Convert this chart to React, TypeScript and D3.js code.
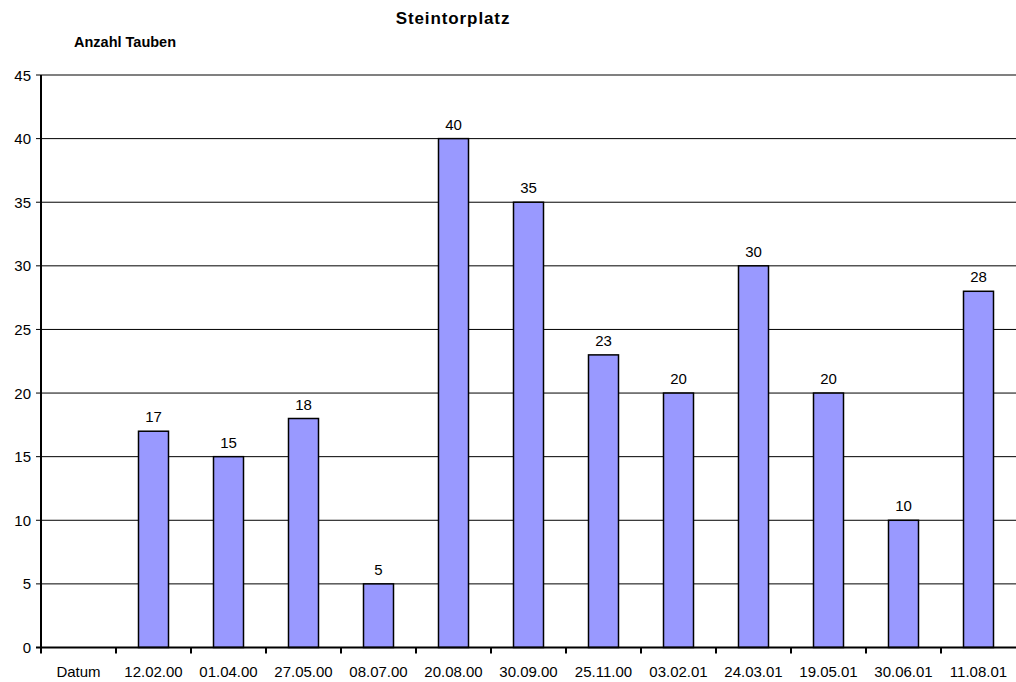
import React from "react";
import * as d3 from "d3";

const categories = ["Datum", "12.02.00", "01.04.00", "27.05.00", "08.07.00", "20.08.00", "30.09.00", "25.11.00", "03.02.01", "24.03.01", "19.05.01", "30.06.01", "11.08.01"];
const counts: (number | null)[] = [null, 17, 15, 18, 5, 40, 35, 23, 20, 30, 20, 10, 28];
const yTicks = [0, 5, 10, 15, 20, 25, 30, 35, 40, 45];

const W = 1016;
const H = 682;
const left = 41;
const right = 1016;
const top = 75;
const bottom = 647.5;

export default function App() {
  const x = d3.scaleBand<string>().domain(categories).range([left, right]).paddingInner(0.6).paddingOuter(0.3);
  const band = d3.scaleBand<string>().domain(categories).range([left, right]);
  const y = d3.scaleLinear().domain([0, 45]).range([bottom, top]);
  const font = "Liberation Sans, Arial, sans-serif";

  return (
    <svg width={W} height={H} style={{ position: "absolute", left: 0, top: 0 }} fontFamily={font}>
      <rect width={W} height={H} fill="#fff" />
      <text x={453} y={24} textAnchor="middle" fontSize={17} letterSpacing={0.9} fontWeight="bold">Steintorplatz</text>
      <text x={74} y={47} fontSize={14.5} fontWeight="bold">Anzahl Tauben</text>

      {yTicks.map((t) => (
        <g key={t}>
          {t > 0 && (
            <line x1={left} x2={right} y1={y(t)} y2={y(t)} stroke={t === 45 ? "#808080" : "#000"} strokeWidth={t === 45 ? 2 : 1} />
          )}
          <line x1={left - 5} x2={left} y1={y(t)} y2={y(t)} stroke="#000" />
          <text x={left - 10} y={y(t) + 5.5} textAnchor="end" fontSize={15}>{t}</text>
        </g>
      ))}

      {categories.map((c, i) => {
        const v = counts[i];
        if (v == null) return null;
        return (
          <g key={c}>
            <rect x={x(c)} y={y(v)} width={x.bandwidth()} height={y(0) - y(v)} fill="#9999FF" stroke="#000" strokeWidth={1.5} />
            <text x={(x(c) as number) + x.bandwidth() / 2} y={y(v) - 9} textAnchor="middle" fontSize={15}>{v}</text>
          </g>
        );
      })}

      <line x1={left} x2={left} y1={top} y2={bottom + 5} stroke="#000" strokeWidth={2} />
      <line x1={left - 5} x2={right} y1={bottom} y2={bottom} stroke="#000" strokeWidth={2} />
      {categories.map((c) => (
        <line key={c} x1={band(c)} x2={band(c)} y1={bottom} y2={bottom + 6} stroke="#000" strokeWidth={2} />
      ))}
      {categories.map((c) => (
        <text key={c} x={(band(c) as number) + band.bandwidth() / 2} y={677} textAnchor="middle" fontSize={15}>{c}</text>
      ))}
    </svg>
  );
}
